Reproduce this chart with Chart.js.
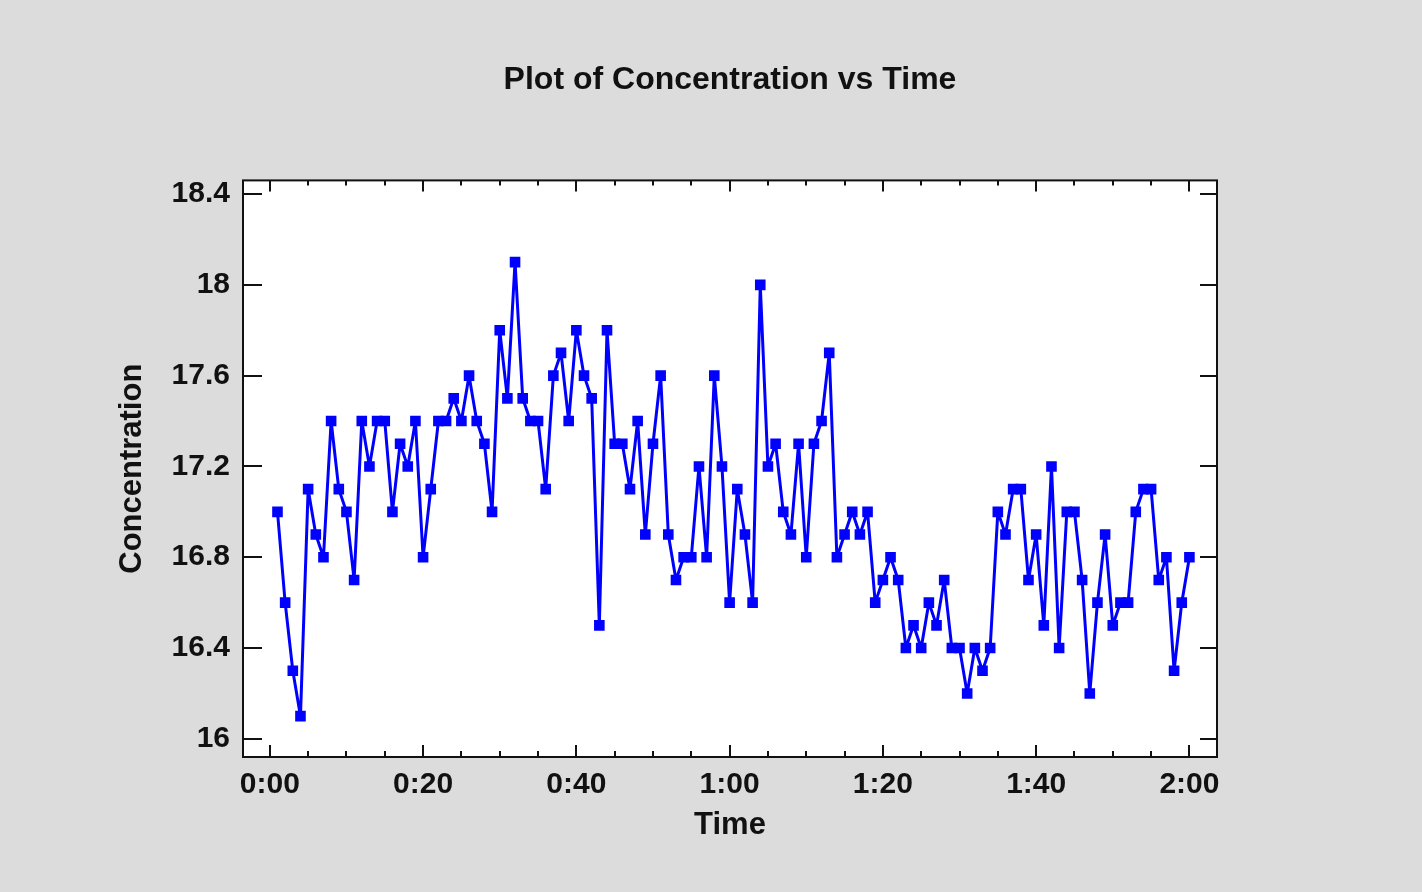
<!DOCTYPE html>
<html>
<head>
<meta charset="utf-8">
<script src="https://cdn.jsdelivr.net/npm/chart.js@4"></script>
<style>
  html, body { margin: 0; padding: 0; background: #dcdcdc; }
  #wrap { width: 1422px; height: 892px; }
</style>
</head>
<body>
<div id="wrap"><canvas id="plot" width="1422" height="892"></canvas></div>
<script>
//------------------------------------------------------------------------------
// data (time in minutes, concentration)
//------------------------------------------------------------------------------
var minutes = [];
for (var i = 1; i <= 120; i++) minutes.push(i);

var concentration = [
  17.0, 16.6, 16.3, 16.1, 17.1, 16.9, 16.8, 17.4, 17.1, 17.0,
  16.7, 17.4, 17.2, 17.4, 17.4, 17.0, 17.3, 17.2, 17.4, 16.8,
  17.1, 17.4, 17.4, 17.5, 17.4, 17.6, 17.4, 17.3, 17.0, 17.8,
  17.5, 18.1, 17.5, 17.4, 17.4, 17.1, 17.6, 17.7, 17.4, 17.8,
  17.6, 17.5, 16.5, 17.8, 17.3, 17.3, 17.1, 17.4, 16.9, 17.3,
  17.6, 16.9, 16.7, 16.8, 16.8, 17.2, 16.8, 17.6, 17.2, 16.6,
  17.1, 16.9, 16.6, 18.0, 17.2, 17.3, 17.0, 16.9, 17.3, 16.8,
  17.3, 17.4, 17.7, 16.8, 16.9, 17.0, 16.9, 17.0, 16.6, 16.7,
  16.8, 16.7, 16.4, 16.5, 16.4, 16.6, 16.5, 16.7, 16.4, 16.4,
  16.2, 16.4, 16.3, 16.4, 17.0, 16.9, 17.1, 17.1, 16.7, 16.9,
  16.5, 17.2, 16.4, 17.0, 17.0, 16.7, 16.2, 16.6, 16.9, 16.5,
  16.6, 16.6, 17.0, 17.1, 17.1, 16.7, 16.8, 16.3, 16.6, 16.8
];

var xTicks = [0, 20, 40, 60, 80, 100, 120];
var xTickLabels = ["0:00", "0:20", "0:40", "1:00", "1:20", "1:40", "2:00"];
var xMinorTicks = [5, 10, 15, 25, 30, 35, 45, 50, 55, 65, 70, 75, 85, 90, 95, 105, 110, 115];
var yTicks = [16, 16.4, 16.8, 17.2, 17.6, 18, 18.4];
var yTickLabels = ["16", "16.4", "16.8", "17.2", "17.6", "18", "18.4"];

//------------------------------------------------------------------------------
var ink = "#111111";
var blue = "#0000ff";
var font = "'Liberation Sans', Arial, sans-serif";

// white plot area, frame and inward tick marks
var frame = {
  id: "frame",
  beforeDraw: function(chart) {
    var a = chart.chartArea, c = chart.ctx;
    c.save();
    c.fillStyle = "#dcdcdc";
    c.fillRect(0, 0, chart.width, chart.height);
    c.fillStyle = "#ffffff";
    c.fillRect(a.left, a.top, a.right - a.left, a.bottom - a.top);
    c.restore();
  },
  afterDraw: function(chart) {
    var a = chart.chartArea, c = chart.ctx;
    var xs = chart.scales.x, ys = chart.scales.y;
    c.save();
    c.strokeStyle = ink;
    c.lineWidth = 2;
    c.strokeRect(a.left, a.top, a.right - a.left, a.bottom - a.top);
    c.beginPath();
    yTicks.forEach(function(v) {
      var p = Math.round(ys.getPixelForValue(v));
      c.moveTo(a.left, p); c.lineTo(a.left + 19, p);
      c.moveTo(a.right, p); c.lineTo(a.right - 17, p);
    });
    xTicks.forEach(function(v) {
      var p = Math.round(xs.getPixelForValue(v));
      c.moveTo(p, a.bottom); c.lineTo(p, a.bottom - 12);
      c.moveTo(p, a.top); c.lineTo(p, a.top + 11);
    });
    xMinorTicks.forEach(function(v) {
      var p = Math.round(xs.getPixelForValue(v));
      c.moveTo(p, a.bottom); c.lineTo(p, a.bottom - 6);
      c.moveTo(p, a.top); c.lineTo(p, a.top + 5);
    });
    c.stroke();
    c.restore();
  }
};

//------------------------------------------------------------------------------
window.onload = function() {
  var ctx = document.getElementById("plot");
  var points = minutes.map(function(m, k) { return { x: m, y: concentration[k] }; });

  var chart = new Chart(ctx, {
    type: 'line',
    data: {
      datasets: [{
        label: "Concentration",
        data: points,
        borderColor: blue,
        backgroundColor: blue,
        borderWidth: 3,
        borderJoinStyle: 'round',
        tension: 0,
        pointStyle: 'rect',
        pointRadius: 7.5,
        pointBorderWidth: 0,
        pointBackgroundColor: blue
      }]
    },
    options: {
      responsive: false,
      animation: false,
      events: [],
      layout: { padding: { left: 114, right: 205, top: 0, bottom: 48 } },
      plugins: {
        legend: { display: false },
        tooltip: { enabled: false },
        title: {
          display: true,
          fullSize: false,
          text: 'Plot of Concentration vs Time',
          color: ink,
          font: { family: font, size: 32, weight: 'bold' },
          padding: { top: 61, bottom: 81 }
        }
      },
      scales: {
        x: {
          type: 'linear',
          min: -3.5,
          max: 123.6,
          grid: { display: false, drawTicks: false },
          border: { display: false },
          afterBuildTicks: function(s) {
            s.ticks = xTicks.map(function(v) { return { value: v }; });
          },
          afterFit: function(s) { s.height = 87; },
          ticks: {
            color: ink,
            maxRotation: 0,
            autoSkip: false,
            padding: 10,
            font: { family: font, size: 30, weight: 'bold' },
            callback: function(v) { return xTickLabels[xTicks.indexOf(v)]; }
          },
          title: {
            display: true,
            text: 'Time',
            color: ink,
            padding: 0,
            font: { family: font, size: 31, weight: 'bold' }
          }
        },
        y: {
          min: 15.92,
          max: 18.46,
          grid: { display: false, drawTicks: false },
          border: { display: false },
          afterBuildTicks: function(s) {
            s.ticks = yTicks.map(function(v) { return { value: v }; });
          },
          afterFit: function(s) { s.width = 129; },
          ticks: {
            color: ink,
            padding: 13,
            font: { family: font, size: 30, weight: 'bold' },
            callback: function(v) { return yTickLabels[yTicks.indexOf(v)]; }
          },
          title: {
            display: true,
            text: 'Concentration',
            color: ink,
            padding: 0,
            font: { family: font, size: 31, weight: 'bold' }
          }
        }
      }
    },
    plugins: [frame]
  });
};
</script>
</body>
</html>
